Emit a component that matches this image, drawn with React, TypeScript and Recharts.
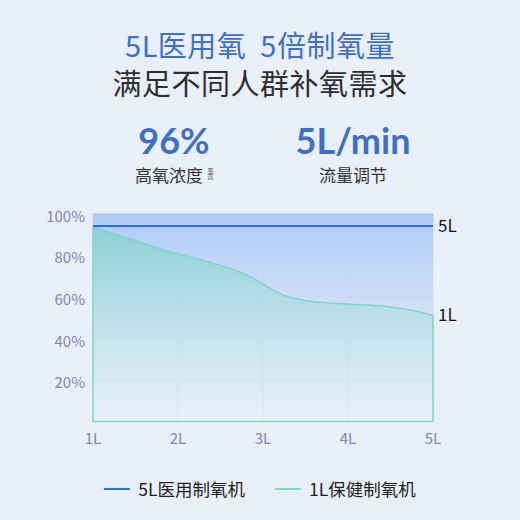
import React from "react";
import {
  ComposedChart,
  Area,
  Line,
  XAxis,
  YAxis,
  CartesianGrid,
  ReferenceArea,
  ReferenceLine,
} from "recharts";

// flow rate (L/min) sampled along the curve
const flows = [1, 1.5, 2, 2.25, 2.5, 2.75, 2.9, 3, 3.2, 3.45, 3.7, 4, 4.5, 4.8, 5];
// 1L home concentrator oxygen purity (%)
const homePurity = [93.5, 87, 80.5, 78, 75, 71.5, 68.5, 66, 61.5, 58.5, 57.2, 56.5, 55, 53, 51];
// 5L medical concentrator purity (%)
const medicalPurity = [94, 94, 94, 94, 94, 94, 94, 94, 94, 94, 94, 94, 94, 94, 94];

const xTicks = [1, 2, 3, 4, 5];
const yTicks = [20, 40, 60, 80, 100];

const seriesNames = ["5L医用制氧机", "1L保健制氧机"];
const endLabels = ["5L", "1L"];

const data = flows.map((f, i) => ({
  flow: f,
  medical: medicalPurity[i],
  home: homePurity[i],
}));

const FONT = '"Noto Sans CJK SC", "Noto Sans", sans-serif';
const NUM_FONT = 'Lato, "Noto Sans", sans-serif';
const BLUE = "#2d6fe2";
const TEAL = "#7fd9c7";
const TICK = "#7b88b3";
const TITLE_BLUE = "#3e70c6";

function endLabel(text: string) {
  return (props: any) => {
    if (props.index !== data.length - 1) return null;
    return (
      <text
        x={props.x + 5}
        y={props.y}
        dy={6}
        fontSize={17}
        fill="#151515"
        fontFamily={FONT}
      >
        {text}
      </text>
    );
  };
}

const abs = (left: number, top: number, width: number): React.CSSProperties => ({
  position: "absolute",
  left,
  top,
  width,
  textAlign: "center",
  whiteSpace: "nowrap",
});

export default function App() {
  return (
    <div
      style={{
        position: "absolute",
        left: 0,
        top: 0,
        width: 520,
        height: 520,
        background: "#eaf0fa",
        fontFamily: FONT,
        overflow: "hidden",
      }}
    >
      <div
        style={{
          ...abs(0, 24, 520),
          fontSize: 29,
          lineHeight: "40px",
          color: TITLE_BLUE,
          letterSpacing: 0.5,
        }}
      >
        5L医用氧&nbsp;&nbsp;5倍制氧量
      </div>
      <div
        style={{
          ...abs(0, 62, 520),
          fontSize: 29,
          lineHeight: "40px",
          color: "#2e2e2e",
          letterSpacing: 0.5,
        }}
      >
        满足不同人群补氧需求
      </div>

      <div
        style={{
          ...abs(104, 123, 140),
          fontFamily: NUM_FONT,
          fontSize: 36,
          fontWeight: 700,
          lineHeight: "34px",
          color: TITLE_BLUE,
        }}
      >
        96%
      </div>
      <div style={{ ...abs(135, 165, 68), fontSize: 17, lineHeight: "20px", color: "#333" }}>
        高氧浓度
      </div>
      <div
        style={{
          position: "absolute",
          left: 207,
          top: 168,
          fontSize: 6,
          lineHeight: "7px",
          writingMode: "vertical-rl",
          textOrientation: "upright",
          color: "#444",
        }}
      >
        至高
      </div>

      <div
        style={{
          ...abs(273, 123, 160),
          fontFamily: NUM_FONT,
          fontSize: 36,
          fontWeight: 700,
          lineHeight: "34px",
          color: TITLE_BLUE,
        }}
      >
        5L/min
      </div>
      <div style={{ ...abs(273, 165, 160), fontSize: 17, lineHeight: "20px", color: "#333" }}>
        流量调节
      </div>

      <div style={{ position: "absolute", left: 0, top: 0 }}>
        <ComposedChart
          width={520}
          height={520}
          data={data}
          margin={{ top: 213.5, right: 87, bottom: 68.5, left: 33 }}
        >
          <defs>
            <linearGradient id="bgGrad" x1="0" y1="0" x2="0" y2="1">
              <stop offset="0%" stopColor="#aac8f7" stopOpacity={0.95} />
              <stop offset="55%" stopColor="#cddcf5" stopOpacity={0.7} />
              <stop offset="100%" stopColor="#e6edf9" stopOpacity={0.4} />
            </linearGradient>
            <linearGradient id="tealGrad" x1="0" y1="0" x2="0" y2="1">
              <stop offset="0%" stopColor="#7fd2cc" stopOpacity={0.75} />
              <stop offset="60%" stopColor="#b5e2e2" stopOpacity={0.45} />
              <stop offset="100%" stopColor="#e3eff7" stopOpacity={0.2} />
            </linearGradient>
          </defs>
          <ReferenceArea
            x1={xTicks[0]}
            x2={xTicks[xTicks.length - 1]}
            y1={0}
            y2={100}
            fill="url(#bgGrad)"
            fillOpacity={1}
            stroke="none"
          />
          <CartesianGrid stroke="#c7d6ee" strokeOpacity={0.8} />
          <XAxis
            dataKey="flow"
            type="number"
            domain={[1, 5]}
            ticks={xTicks}
            tickFormatter={(v) => `${v}L`}
            tick={{ fontSize: 15, fill: TICK, fontFamily: FONT, dy: 4 }}
            axisLine={{ stroke: TEAL, strokeWidth: 1.5 }}
            tickLine={false}
            height={30}
          />
          <YAxis
            type="number"
            domain={[0, 100]}
            ticks={yTicks}
            tickFormatter={(v) => `${v}%`}
            tick={{ fontSize: 15, fill: TICK, fontFamily: FONT, dy: 3 }}
            axisLine={false}
            tickLine={false}
            width={60}
          />
          <Area
            type="monotone"
            dataKey="home"
            name={seriesNames[1]}
            stroke={TEAL}
            strokeWidth={1.5}
            fill="url(#tealGrad)"
            fillOpacity={1}
            dot={false}
            activeDot={false}
            isAnimationActive={false}
            label={endLabel(endLabels[1])}
          />
          <ReferenceLine
            segment={[
              { x: flows[0], y: 0 },
              { x: flows[0], y: homePurity[0] },
            ]}
            stroke={TEAL}
            strokeWidth={1.5}
          />
          <ReferenceLine
            segment={[
              { x: flows[flows.length - 1], y: 0 },
              { x: flows[flows.length - 1], y: homePurity[homePurity.length - 1] },
            ]}
            stroke={TEAL}
            strokeWidth={1.5}
          />
          <Line
            type="linear"
            dataKey="medical"
            name={seriesNames[0]}
            stroke={BLUE}
            strokeWidth={2}
            dot={false}
            activeDot={false}
            isAnimationActive={false}
            label={endLabel(endLabels[0])}
          />
        </ComposedChart>
      </div>

      <div
        style={{
          position: "absolute",
          top: 477,
          left: 0,
          width: 520,
          display: "flex",
          justifyContent: "center",
          alignItems: "center",
          fontSize: 17.5,
          color: "#1e1e1e",
          lineHeight: "24px",
        }}
      >
        <span style={{ width: 26, height: 2, background: BLUE, display: "inline-block", marginRight: 8 }} />
        <span style={{ marginRight: 30 }}>{seriesNames[0]}</span>
        <span style={{ width: 26, height: 2, background: TEAL, display: "inline-block", marginRight: 8 }} />
        <span>{seriesNames[1]}</span>
      </div>
    </div>
  );
}
